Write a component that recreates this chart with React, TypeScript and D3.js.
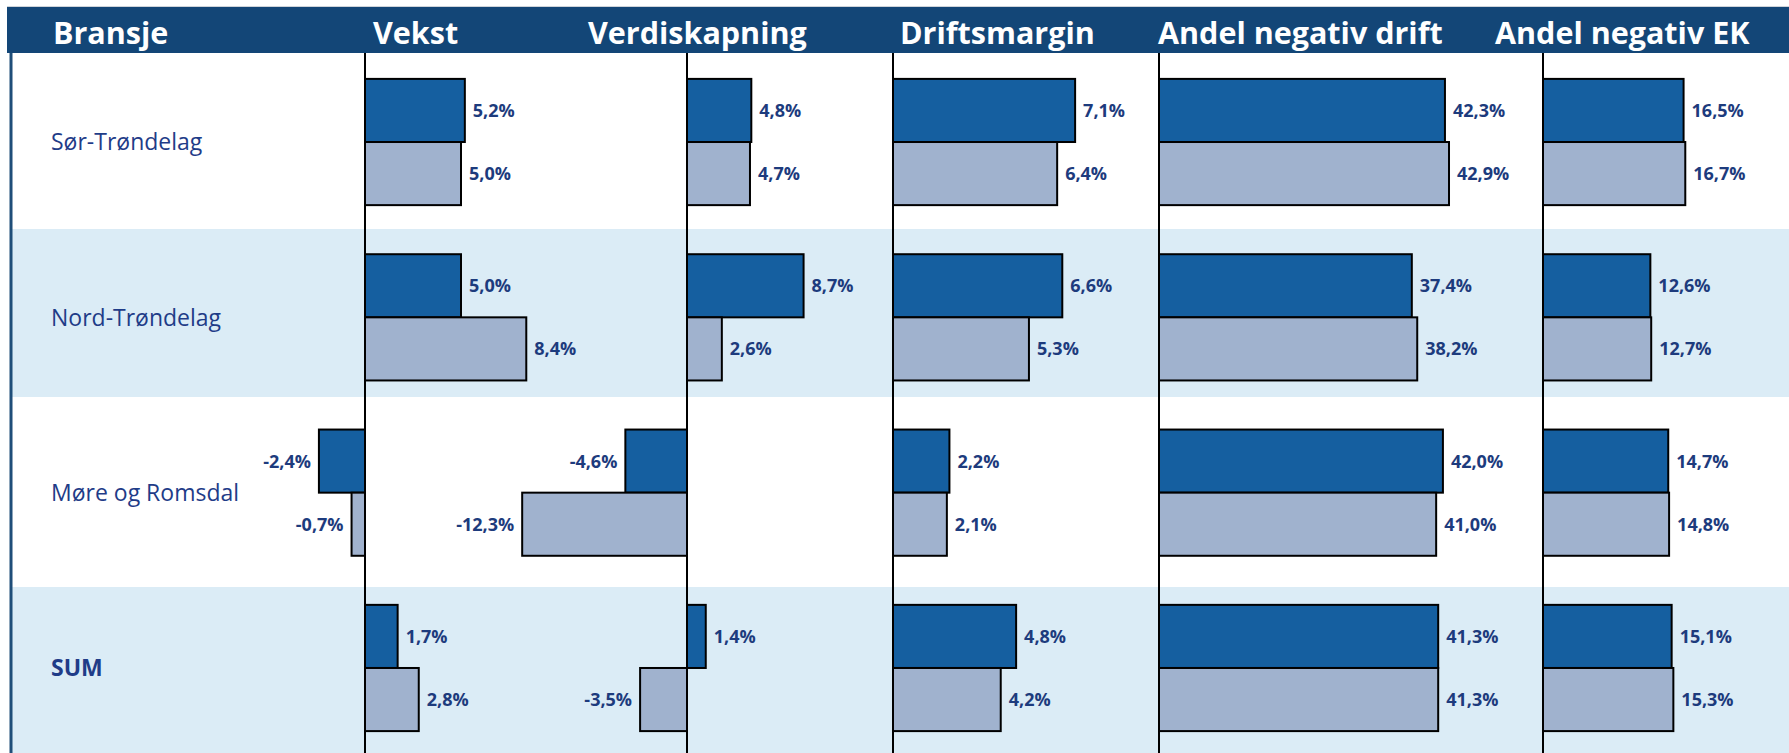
import { useEffect, useRef } from "react";
import * as d3 from "d3";

const regions = ["Sør-Trøndelag", "Nord-Trøndelag", "Møre og Romsdal", "SUM"];
const seriesKeys = ["current", "previous"];

const vekstCurrent = [5.2, 5.0, -2.4, 1.7];
const vekstPrevious = [5.0, 8.4, -0.7, 2.8];
const verdiskapningCurrent = [4.8, 8.7, -4.6, 1.4];
const verdiskapningPrevious = [4.7, 2.6, -12.3, -3.5];
const driftsmarginCurrent = [7.1, 6.6, 2.2, 4.8];
const driftsmarginPrevious = [6.4, 5.3, 2.1, 4.2];
const negDriftCurrent = [42.3, 37.4, 42.0, 41.3];
const negDriftPrevious = [42.9, 38.2, 41.0, 41.3];
const negEkCurrent = [16.5, 12.6, 14.7, 15.1];
const negEkPrevious = [16.7, 12.7, 14.8, 15.3];

const headerTitle = "Bransje";

// layout of the five panels: zero line and where a reference value lands
const columns = [
	{ title: "Vekst", current: vekstCurrent, previous: vekstPrevious, ref: 10, zeroX: 365, refX: 557, titleX: 373 },
	{ title: "Verdiskapning", current: verdiskapningCurrent, previous: verdiskapningPrevious, ref: 10, zeroX: 687, refX: 821, titleX: 588 },
	{ title: "Driftsmargin", current: driftsmarginCurrent, previous: driftsmarginPrevious, ref: 10, zeroX: 893, refX: 1149.5, titleX: 900 },
	{ title: "Andel negativ drift", current: negDriftCurrent, previous: negDriftPrevious, ref: 50, zeroX: 1159, refX: 1497, titleX: 1158 },
	{ title: "Andel negativ EK", current: negEkCurrent, previous: negEkPrevious, ref: 20, zeroX: 1543, refX: 1713.4, titleX: 1495 }
];

const width = 1789;
const height = 753;
const headerTop = 7;
const headerBottom = 53;
const rowEdges = [53, 229, 397, 587, 753];

const colors = {
	header: "#134677",
	stripe: "#dbecf6",
	border: "#1f4e79",
	current: "#155fa0",
	previous: "#a0b2ce",
	label: "#1f3c88",
	value: "#1d3b7d"
};

const fontFamily = "'Open Sans', 'Noto Sans', sans-serif";
const formatValue = (v: number) => `${v.toFixed(1).replace(".", ",")}%`;

export default function App() {
	const containerRef = useRef<HTMLDivElement>(null);

	useEffect(() => {
		if (!containerRef.current) {
			return;
		}
		const container = containerRef.current;

		const svg = d3
			.select(container)
			.append("svg")
			.attr("width", width)
			.attr("height", height)
			.style("display", "block")
			.attr("font-family", fontFamily);

		svg.append("rect").attr("width", width).attr("height", height).attr("fill", "#ffffff");

		// row stripes
		svg
			.append("g")
			.selectAll("rect")
			.data(regions)
			.join("rect")
			.attr("x", 12)
			.attr("y", (_, i) => rowEdges[i])
			.attr("width", width - 12)
			.attr("height", (_, i) => rowEdges[i + 1] - rowEdges[i])
			.attr("fill", (_, i) => (i % 2 === 1 ? colors.stripe : "#ffffff"));

		// header
		svg
			.append("line")
			.attr("x1", headerTop)
			.attr("x2", width)
			.attr("y1", headerTop - 0.5)
			.attr("y2", headerTop - 0.5)
			.attr("stroke", "#cfd4da")
			.attr("stroke-width", 1);
		svg
			.append("rect")
			.attr("x", headerTop)
			.attr("y", headerTop)
			.attr("width", width - headerTop)
			.attr("height", headerBottom - headerTop)
			.attr("fill", colors.header);

		const titles = [{ text: headerTitle, x: 53 }, ...columns.map((c) => ({ text: c.title, x: c.titleX }))];
		svg
			.append("g")
			.selectAll("text")
			.data(titles)
			.join("text")
			.attr("x", (d) => d.x)
			.attr("y", 43.5)
			.attr("fill", "#ffffff")
			.attr("font-size", 30.5)
			.attr("font-weight", 700)
			.text((d) => d.text);

		// left border
		svg
			.append("line")
			.attr("x1", 11)
			.attr("x2", 11)
			.attr("y1", headerBottom)
			.attr("y2", height)
			.attr("stroke", colors.border)
			.attr("stroke-width", 3);

		const yScale = d3
			.scaleBand<string>()
			.domain(regions)
			.range([54.35, 755.65])
			.paddingInner(0.28)
			.paddingOuter(0.14);

		const innerScale = d3.scaleBand<string>().domain(seriesKeys).range([0, yScale.bandwidth()]);

		// region labels
		svg
			.append("g")
			.selectAll("text")
			.data(regions)
			.join("text")
			.attr("x", 51)
			.attr("y", (d) => (yScale(d) ?? 0) + yScale.bandwidth() / 2 + 8.2)
			.attr("fill", colors.label)
			.attr("font-size", 23)
			.attr("font-weight", (d) => (d === "SUM" ? 700 : 400))
			.text((d) => d);

		columns.forEach((col) => {
			const x = d3.scaleLinear().domain([0, col.ref]).range([col.zeroX, col.refX]);
			const panel = svg.append("g");

			const segments = regions.flatMap((region, i) =>
				seriesKeys.map((key) => ({
					region,
					key,
					value: key === "current" ? col.current[i] : col.previous[i]
				}))
			);

			panel
				.selectAll("rect")
				.data(segments)
				.join("rect")
				.attr("x", (d) => Math.min(x(0), x(d.value)))
				.attr("y", (d) => (yScale(d.region) ?? 0) + (innerScale(d.key) ?? 0))
				.attr("width", (d) => Math.abs(x(d.value) - x(0)))
				.attr("height", innerScale.bandwidth())
				.attr("fill", (d) => (d.key === "current" ? colors.current : colors.previous))
				.attr("stroke", "#000000")
				.attr("stroke-width", 2);

			panel
				.selectAll("text")
				.data(segments)
				.join("text")
				.attr("x", (d) => (d.value < 0 ? x(d.value) - 8 : x(d.value) + 8))
				.attr("y", (d) => (yScale(d.region) ?? 0) + (innerScale(d.key) ?? 0) + innerScale.bandwidth() / 2 + 6.4)
				.attr("text-anchor", (d) => (d.value < 0 ? "end" : "start"))
				.attr("fill", colors.value)
				.attr("font-size", 18)
				.attr("font-weight", 700)
				.text((d) => formatValue(d.value));

			panel
				.append("line")
				.attr("x1", x(0))
				.attr("x2", x(0))
				.attr("y1", headerBottom)
				.attr("y2", height)
				.attr("stroke", "#000000")
				.attr("stroke-width", 2);
		});

		return () => {
			svg.remove();
		};
	}, []);

	return <div ref={containerRef} style={{ position: "absolute", left: 0, top: 0 }} />;
}
